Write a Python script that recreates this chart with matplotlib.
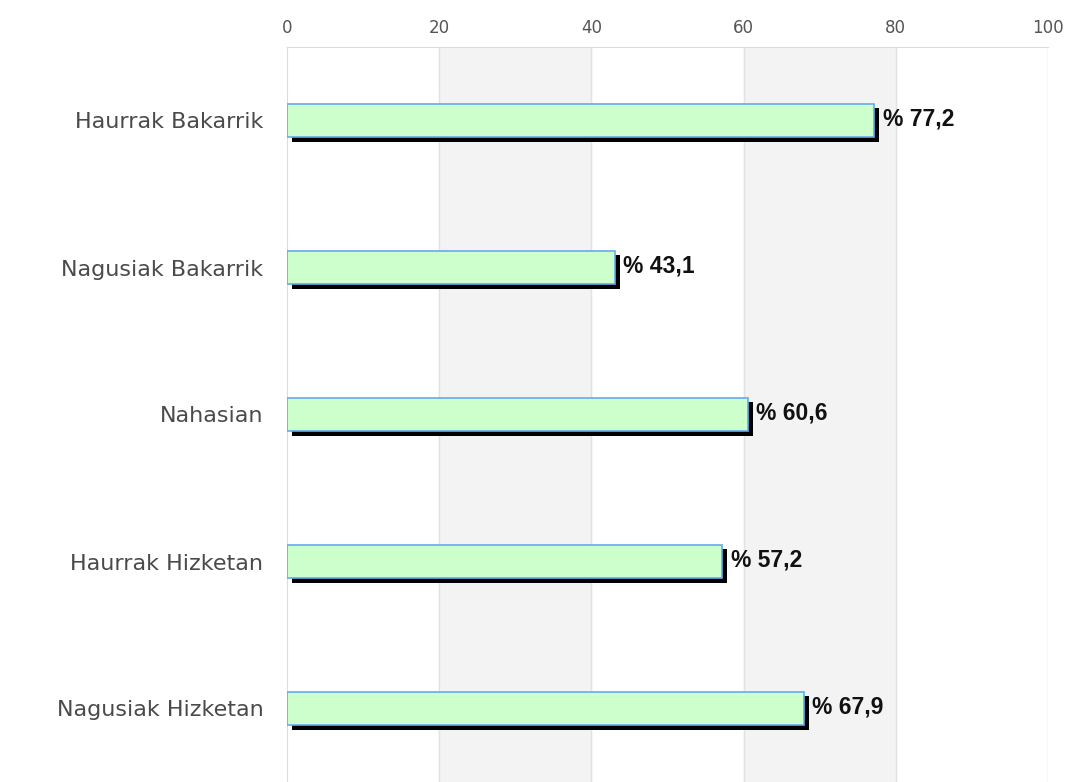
import matplotlib.pyplot as plt
import matplotlib.patheffects as pe

plt.rcParams['font.family'] = ['DejaVu Sans']

# datuak
kategoriak = ['Haurrak Bakarrik', 'Nagusiak Bakarrik', 'Nahasian', 'Haurrak Hizketan', 'Nagusiak Hizketan']
balioak = [77.2, 43.1, 60.6, 57.2, 67.9]
etiketak = ['% 77,2', '% 43,1', '% 60,6', '% 57,2', '% 67,9']
x_tikak = [0, 20, 40, 60, 80, 100]

fig = plt.figure(figsize=(10.7, 7.82), dpi=100)
ax = fig.add_axes([287 / 1070, 0.0, (1048 - 287) / 1070, 1 - 47 / 782])

# banda grisak
for a in range(20, 100, 40):
    ax.axvspan(a, a + 20, color='#f3f3f3', zorder=0)
for t in x_tikak[1:]:
    ax.axvline(t, color='#e2e2e2', lw=1, zorder=1)

y = list(range(len(kategoriak)))
bars = ax.barh(y, balioak, height=0.23, color='#ccffcc', edgecolor='#66aaee', lw=1.2, zorder=3)
for b in bars:
    b.set_path_effects([pe.SimplePatchShadow(offset=(3.5, -3.5), shadow_rgbFace='black', alpha=1),
                        pe.Normal()])

for yi, v, lab in zip(y, balioak, etiketak):
    ax.annotate(lab, (v, yi), xytext=(6, 1), textcoords='offset points', va='center', ha='left',
                fontsize=16.5, fontweight='bold', color='#111111',
                family=['Liberation Sans Narrow', 'Liberation Sans', 'DejaVu Sans'], zorder=4)

ax.set_xlim(0, 100)
ax.set_ylim(4.5, -0.5)
ax.set_yticks(y)
ax.set_yticklabels(kategoriak, fontsize=16, color='#4a4a4a')
ax.set_xticks(x_tikak)
ax.xaxis.tick_top()
ax.tick_params(axis='x', length=0, pad=7, labelsize=12, labelcolor='#555555')
ax.tick_params(axis='y', length=0, pad=17)

for s in ['bottom', 'right']:
    ax.spines[s].set_visible(False)
ax.spines['top'].set_color('#dddddd')
ax.spines['left'].set_color('#dddddd')

fig.savefig('out.png', dpi=100)
